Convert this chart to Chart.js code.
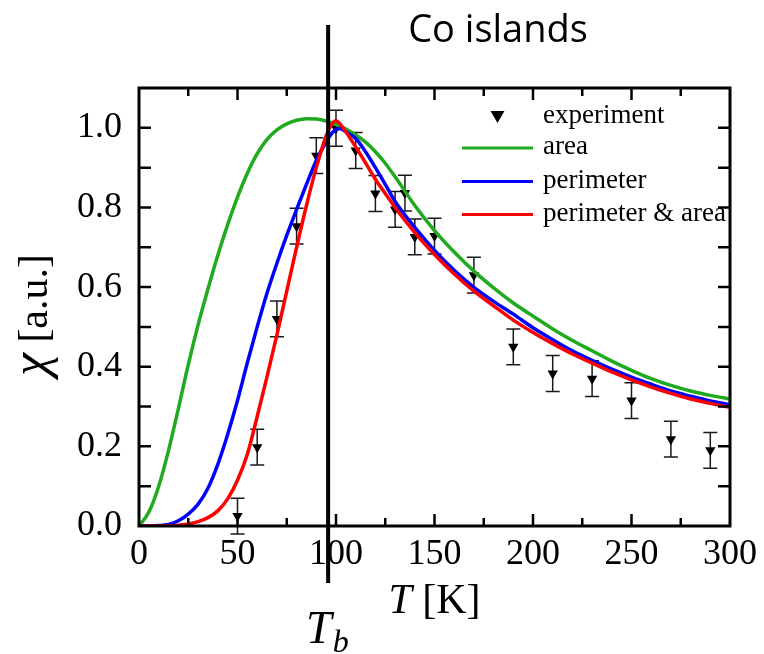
<!DOCTYPE html>
<html><head><meta charset="utf-8">
<script src="https://cdn.jsdelivr.net/npm/chart.js@4"></script>
<style>html,body{margin:0;padding:0;background:#fff}canvas{display:block}</style>
</head><body>
<canvas id="c" width="764" height="654"></canvas>
<script>
// ---- data ----
const T_CURVE = [0,5,10,15,20,25,30,35,40,45,50,55,60,65,70,75,80,85,90,95,98,100,102,105,110,115,120,125,130,140,150,160,170,180,190,200,210,220,230,240,250,260,270,280,290,300];
const AREA = [0,0.035,0.10,0.19,0.295,0.405,0.505,0.595,0.68,0.757,0.826,0.886,0.935,0.971,0.995,1.01,1.019,1.023,1.022,1.017,1.012,1.008,1.004,0.997,0.982,0.964,0.94,0.911,0.877,0.805,0.742,0.688,0.64,0.598,0.56,0.527,0.495,0.466,0.44,0.414,0.391,0.37,0.353,0.339,0.328,0.319];
const PERIMETER = [0,0,0.001,0.004,0.013,0.03,0.055,0.095,0.155,0.23,0.315,0.41,0.50,0.585,0.66,0.73,0.795,0.858,0.918,0.965,0.987,0.995,0.998,0.99,0.973,0.94,0.90,0.858,0.815,0.75,0.692,0.642,0.599,0.564,0.532,0.498,0.468,0.44,0.416,0.394,0.374,0.356,0.339,0.326,0.314,0.305];
const PERIM_AREA = [0,0,0,0,0.002,0.005,0.011,0.021,0.038,0.068,0.115,0.18,0.275,0.375,0.48,0.59,0.70,0.805,0.90,0.98,1.01,1.018,1.01,0.99,0.952,0.912,0.871,0.835,0.80,0.737,0.682,0.633,0.59,0.553,0.517,0.486,0.458,0.432,0.409,0.387,0.367,0.349,0.333,0.319,0.308,0.298];
const T_EXP = [50,60,70,80,90,100,110,120,130,135,140,150,170,190,210,230,250,270,290];
const CHI_EXP = [0.025,0.198,0.52,0.753,0.93,0.999,0.943,0.835,0.795,0.836,0.726,0.728,0.63,0.45,0.383,0.37,0.315,0.218,0.19];
const CHI_ERR = [0.045,0.045,0.045,0.045,0.045,0.045,0.045,0.045,0.045,0.045,0.045,0.045,0.045,0.045,0.045,0.045,0.045,0.045,0.045];
const SERIES_NAMES = ['experiment','area','perimeter','perimeter & area'];
const X_MINOR = [25,75,125,175,225,275];
const Y_MINOR = [0.1,0.3,0.5,0.7,0.9];
const T_B = 96;
const TITLE = 'Co islands';

const GREEN = '#1faa1f', BLUE = '#0000ff', RED = '#ff0000';
const SERIF = "'Liberation Serif','Times New Roman',serif";

const pts = (xs, ys) => xs.map((v,i)=>({x:v, y:ys[i]}));

const deco = {
  id:'deco',
  beforeDatasetsDraw(chart){
    const {ctx, scales:{x,y}} = chart;
    ctx.save();
    ctx.strokeStyle='#1a1a1a'; ctx.lineWidth=1.5;
    ctx.beginPath();
    T_EXP.forEach((t,i)=>{
      const px = x.getPixelForValue(t);
      const yt = y.getPixelForValue(CHI_EXP[i]+CHI_ERR[i]);
      const yb = y.getPixelForValue(CHI_EXP[i]-CHI_ERR[i]);
      ctx.moveTo(px,yt); ctx.lineTo(px,yb);
      ctx.moveTo(px-7,yt); ctx.lineTo(px+7,yt);
      ctx.moveTo(px-7,yb); ctx.lineTo(px+7,yb);
    });
    ctx.stroke();
    ctx.restore();
  },
  afterDatasetsDraw(chart){
    const {ctx, chartArea:a, scales:{x,y}} = chart;
    ctx.save();
    ctx.strokeStyle='#000';
    ctx.lineWidth=3;
    ctx.strokeRect(a.left, a.top, a.right-a.left, a.bottom-a.top);
    ctx.lineWidth=2.5;
    ctx.beginPath();
    const vt = (v,len)=>{const px=x.getPixelForValue(v); if(px<=a.left+2||px>=a.right-2) return;
      ctx.moveTo(px,a.bottom); ctx.lineTo(px,a.bottom-len); ctx.moveTo(px,a.top); ctx.lineTo(px,a.top+len);};
    const ht = (v,len)=>{const py=y.getPixelForValue(v); if(py<=a.top+2||py>=a.bottom-2) return;
      ctx.moveTo(a.left,py); ctx.lineTo(a.left+len,py); ctx.moveTo(a.right,py); ctx.lineTo(a.right-len,py);};
    x.ticks.forEach(t=>vt(t.value,12));
    X_MINOR.forEach(v=>vt(v,8));
    y.ticks.forEach(t=>ht(t.value,12));
    Y_MINOR.forEach(v=>ht(v,12));
    ctx.stroke();

    // legend
    const ds = chart.data.datasets;
    const lx0 = 462, lx1 = 533, tx = 543;
    const rowY = [117, 148, 181.5, 214.5];
    ctx.font = "27px " + SERIF;
    ctx.fillStyle = '#000';
    ctx.textAlign = 'left';
    ctx.textBaseline = 'alphabetic';
    ds.forEach((d,i)=>{
      const ry = rowY[i];
      if (i===0){
        const cx=(lx0+lx1)/2, r=8;
        ctx.beginPath();
        ctx.moveTo(cx, ry+r*0.75);
        ctx.lineTo(cx-r*0.87, ry-r*0.75);
        ctx.lineTo(cx+r*0.87, ry-r*0.75);
        ctx.closePath(); ctx.fill();
      } else {
        ctx.strokeStyle = d.borderColor; ctx.lineWidth = 3;
        ctx.beginPath(); ctx.moveTo(lx0, ry); ctx.lineTo(lx1, ry); ctx.stroke();
      }
      ctx.fillText(d.label, tx, ry+6);
    });
    ctx.restore();
  },
  afterDraw(chart){
    const {ctx, chartArea:a, scales:{x}} = chart;
    ctx.save();
    // T_b vertical line
    const px = x.getPixelForValue(T_B);
    ctx.strokeStyle='#000'; ctx.lineWidth=4;
    ctx.beginPath(); ctx.moveTo(px, 25); ctx.lineTo(px, 583); ctx.stroke();
    ctx.fillStyle='#000';
    // title
    ctx.font = "38px 'Open Sans', sans-serif";
    ctx.textAlign='center'; ctx.textBaseline='alphabetic';
    ctx.fillText(TITLE, 498, 42);
    // x axis title: T [K]
    ctx.textAlign='left';
    const fI = "italic 42px " + SERIF, fN = "42px " + SERIF;
    ctx.font=fI; const wT = ctx.measureText('T').width;
    ctx.font=fN; const wR = ctx.measureText(' [K]').width;
    const cx = (a.left+a.right)/2;
    let sx = cx - (wT+wR)/2;
    ctx.font=fI; ctx.fillText('T', sx, 613);
    ctx.font=fN; ctx.fillText(' [K]', sx+wT, 613);
    // T_b label
    ctx.font = "italic 46px " + SERIF;
    const wTb = ctx.measureText('T').width;
    ctx.fillText('T', px-22, 643);
    ctx.font = "italic 32px " + SERIF;
    ctx.fillText('b', px-22+wTb+1, 652);
    // y axis title: χ [a.u.]
    ctx.translate(47, 315);
    ctx.rotate(-Math.PI/2);
    const gI = "italic 52px " + SERIF, gN = "42px " + SERIF;
    ctx.font=gI; const wc = ctx.measureText('χ').width;
    ctx.font=gN; const wa = ctx.measureText(' [a.u.]').width;
    const s0 = -(wc+wa)/2;
    ctx.font=gI; ctx.fillText('χ', s0, 0);
    ctx.font=gN; ctx.fillText(' [a.u.]', s0+wc, 0);
    ctx.restore();
  }
};

const tickFont = {family: SERIF, size: 36};
new Chart(document.getElementById('c'), {
  type: 'scatter',
  data: {datasets: [
    {label: SERIES_NAMES[0], data: pts(T_EXP, CHI_EXP), pointStyle:'triangle', rotation:180, pointRadius:6, pointHoverRadius:6,
     backgroundColor:'#000', borderColor:'#000', borderWidth:0, order:4},
    {label: SERIES_NAMES[1], type:'line', data: pts(T_CURVE, AREA), borderColor:GREEN, borderWidth:3.5, pointRadius:0, cubicInterpolationMode:'monotone', fill:false, order:3},
    {label: SERIES_NAMES[2], type:'line', data: pts(T_CURVE, PERIMETER), borderColor:BLUE, borderWidth:3.5, pointRadius:0, cubicInterpolationMode:'monotone', fill:false, order:2},
    {label: SERIES_NAMES[3], type:'line', data: pts(T_CURVE, PERIM_AREA), borderColor:RED, borderWidth:3.5, pointRadius:0, cubicInterpolationMode:'monotone', fill:false, order:1}
  ]},
  options: {
    responsive:false, animation:false, devicePixelRatio:1,
    layout:{padding:{top:88, right:28, left:0, bottom:0}},
    plugins:{legend:{display:false}, tooltip:{enabled:false}},
    scales:{
      x:{type:'linear', min:0, max:300, afterFit(s){s.height=128;},
         grid:{display:false, drawTicks:false}, border:{display:false},
         ticks:{stepSize:50, font:tickFont, color:'#000', padding:7, maxRotation:0, autoSkip:false}},
      y:{type:'linear', min:0, max:1.1, afterFit(s){s.width=139;},
         grid:{display:false, drawTicks:false}, border:{display:false},
         ticks:{stepSize:0.2, includeBounds:false, font:tickFont, color:'#000', padding:17,
                callback:(v)=>Number(v).toFixed(1)}}
    }
  },
  plugins:[deco]
});
</script>
</body></html>
